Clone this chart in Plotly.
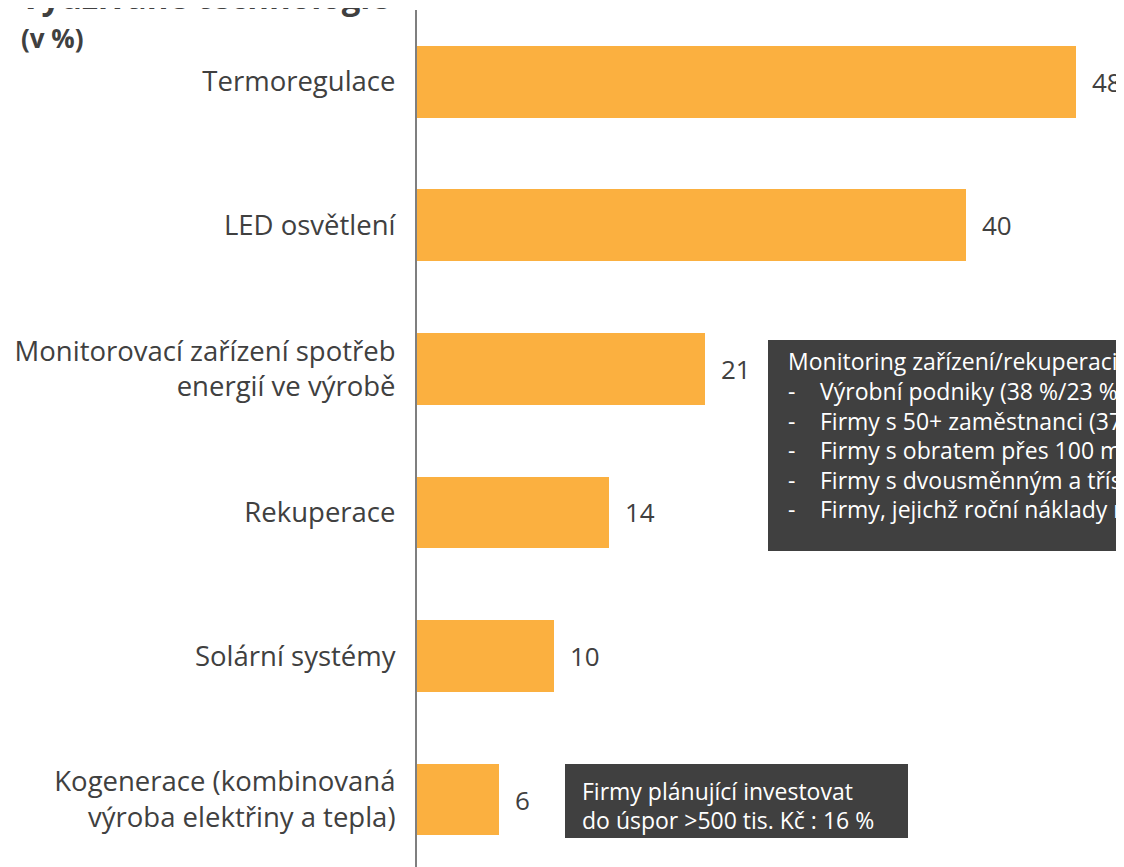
import plotly.graph_objects as go

categories = [
    "Termoregulace",
    "LED osvětlení",
    "Monitorovací zařízení spotřeb<br>energií ve výrobě",
    "Rekuperace",
    "Solární systémy",
    "Kogenerace (kombinovaná<br>výroba elektřiny a tepla)",
]
values = [48, 40, 21, 14, 10, 6]

title_line1 = "Využívané technologie"
title_line2 = "(v %)"

box1_header = "Monitoring zařízení/rekuperaci"
box1_items = [
    "Výrobní podniky (38 %/23 %)",
    "Firmy s 50+ zaměstnanci (37 %)",
    "Firmy s obratem přes 100 mil. Kč",
    "Firmy s dvousměnným a třísměnným provozem",
    "Firmy, jejichž roční náklady na energie",
]
box2_lines = ["Firmy plánující investovat", "do úspor >500 tis. Kč : 16 %"]

# the page body adds an 8 px offset; all positions below are in screen pixels
OFF = 8
W, H = 1124 - OFF, 867 - OFF
ML, MR, MT, MB = 417 - OFF, 0, 10 - OFF, 0
PW = W - ML - MR
PH = H - MT - MB


def px(xs):
    return (xs - OFF - ML) / PW


def py(ys):
    return (H + OFF - MB - ys) / PH


BAR = "#FBB040"
DARK = "#404040"
FONT = "Open Sans, DejaVu Sans, sans-serif"

ypos = list(range(len(categories)))

fig = go.Figure()
fig.add_trace(go.Bar(
    x=values, y=ypos, orientation="h",
    marker=dict(color=BAR, line=dict(width=0)),
    width=0.5, hoverinfo="skip",
))

annotations = []
for v, y in zip(values, ypos):
    annotations.append(dict(
        x=v, y=y, xref="x", yref="y", text=str(v), showarrow=False,
        xanchor="left", yanchor="middle", xshift=14,
        font=dict(family=FONT, size=26, color=DARK),
    ))

# title
annotations.append(dict(
    x=px(18), y=py(-3), xref="paper", yref="paper", text="<b>" + title_line1 + "</b>",
    showarrow=False, xanchor="left", yanchor="middle",
    font=dict(family=FONT, size=33, color=DARK),
))
annotations.append(dict(
    x=px(19), y=py(38), xref="paper", yref="paper", text="<b>" + title_line2 + "</b>",
    showarrow=False, xanchor="left", yanchor="middle",
    font=dict(family=FONT, size=26, color=DARK),
))

shapes = []
BOXF = 23
# box 1
shapes.append(dict(type="rect", xref="paper", yref="paper",
                   x0=px(768), x1=px(1250), y0=py(551), y1=py(340),
                   fillcolor=DARK, line=dict(width=0), layer="above"))
annotations.append(dict(
    x=px(786), y=py(361), xref="paper", yref="paper", text=box1_header,
    showarrow=False, xanchor="left", yanchor="middle",
    font=dict(family=FONT, size=BOXF, color="white"),
))
for i, t in enumerate(box1_items):
    yy = 391 + i * 29.5
    annotations.append(dict(
        x=px(786), y=py(yy), xref="paper", yref="paper", text="-",
        showarrow=False, xanchor="left", yanchor="middle",
        font=dict(family=FONT, size=BOXF, color="white"),
    ))
    annotations.append(dict(
        x=px(818), y=py(yy), xref="paper", yref="paper", text=t,
        showarrow=False, xanchor="left", yanchor="middle",
        font=dict(family=FONT, size=BOXF, color="white"),
    ))

# box 2
shapes.append(dict(type="rect", xref="paper", yref="paper",
                   x0=px(565), x1=px(908), y0=py(838), y1=py(764),
                   fillcolor=DARK, line=dict(width=0), layer="above"))
for i, t in enumerate(box2_lines):
    annotations.append(dict(
        x=px(580), y=py(791 + i * 29), xref="paper", yref="paper", text=t,
        showarrow=False, xanchor="left", yanchor="middle",
        font=dict(family=FONT, size=BOXF, color="white"),
    ))

fig.update_layout(
    width=W, height=H,
    margin=dict(l=ML, r=MR, t=MT, b=MB, pad=0),
    paper_bgcolor="white", plot_bgcolor="white",
    showlegend=False,
    bargap=0,
    xaxis=dict(range=[0, PW / 13.73], visible=False, fixedrange=True),
    yaxis=dict(
        range=[5.47, -0.5], tickmode="array", tickvals=ypos, ticktext=categories,
        showgrid=False, zeroline=False, showline=True, linecolor="#7f7f7f", linewidth=2,
        ticks="", ticklabelstandoff=14,
        tickfont=dict(family=FONT, size=27.5, color=DARK),
        fixedrange=True,
    ),
    annotations=annotations,
    shapes=shapes,
)

fig.write_html("out.html")
